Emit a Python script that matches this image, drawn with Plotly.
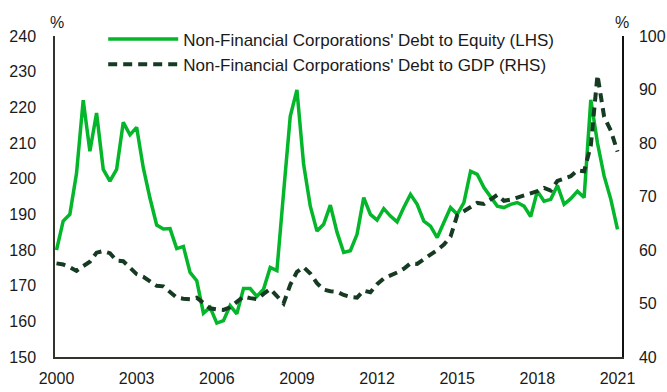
import plotly.graph_objects as go

# Quarterly observations, 2000Q1 .. 2021Q1
start_year = 2000
quarters = 85
years = [start_year + 0.25 * i for i in range(quarters)]

debt_to_equity = [
    180.0, 188.1, 190.0, 201.5, 222.0, 207.7, 218.4, 202.6, 199.3, 202.6,
    215.8, 212.3, 214.4, 203.0, 194.5, 187.0, 185.9, 186.0, 180.4, 181.0,
    173.7, 171.4, 162.3, 163.9, 159.5, 160.2, 164.4, 162.1, 169.2, 169.2,
    167.0, 169.0, 175.1, 174.2, 196.0, 217.5, 224.9, 204.0, 192.3, 185.3,
    187.2, 192.6, 185.0, 179.3, 179.8, 184.4, 194.7, 190.0, 188.4, 191.6,
    189.5, 187.9, 191.9, 195.6, 192.8, 188.1, 186.7, 183.5, 187.7, 191.9,
    190.0, 193.3, 202.1, 201.2, 197.5, 194.7, 192.3, 191.9, 192.8, 193.3,
    192.3, 189.4, 196.5, 193.7, 194.2, 198.1, 192.8, 194.4, 196.5, 194.7,
    222.1, 210.0, 200.7, 194.2, 185.8,
]

debt_to_gdp = [
    57.5, 57.3, 56.8, 56.1, 57.0, 57.8, 59.5, 59.8, 59.4, 58.0,
    57.9, 56.8, 55.5, 55.0, 54.2, 53.3, 53.2, 52.2, 51.1, 50.9,
    50.8, 51.1, 50.0, 49.1, 48.9, 48.8, 49.3, 50.3, 51.3, 51.0,
    50.8, 51.8, 52.7, 51.4, 50.0, 53.5, 55.9, 56.8, 55.6, 53.8,
    52.6, 52.3, 52.2, 51.6, 51.2, 51.1, 52.4, 52.1, 53.6, 54.7,
    55.2, 55.8, 56.5, 57.5, 57.4, 58.2, 59.0, 60.0, 61.0, 62.5,
    66.5, 67.3, 67.9, 68.8, 68.6, 69.5, 70.3, 69.2, 69.4, 69.8,
    70.2, 70.6, 71.0, 71.6, 71.1, 72.9, 73.4, 73.8, 74.9, 74.7,
    79.5, 92.7, 84.9, 82.3, 78.4,
]

x_ticks = [2000, 2003, 2006, 2009, 2012, 2015, 2018, 2021]
x_labels = ["2000", "2003", "2006", "2009", "2012", "2015", "2018", "2021"]
left_ticks = [150, 160, 170, 180, 190, 200, 210, 220, 230, 240]
right_ticks = [40, 50, 60, 70, 80, 90, 100]

name_equity = "Non-Financial Corporations' Debt to Equity (LHS)"
name_gdp = "Non-Financial Corporations' Debt to GDP (RHS)"

GREEN = "#03b62a"
DARK = "#163a22"
FONT = "Liberation Sans, Arial, sans-serif"

fig = go.Figure()
fig.add_trace(go.Scatter(
    x=years, y=debt_to_equity, name=name_equity, mode="lines",
    line=dict(color=GREEN, width=3.5),
))
fig.add_trace(go.Scatter(
    x=years, y=debt_to_gdp, name=name_gdp, mode="lines", yaxis="y2",
    line=dict(color=DARK, width=4, dash="9px,6px"),
))

fig.update_layout(
    width=667, height=392,
    margin=dict(l=55, r=45, t=36, b=35, autoexpand=False),
    paper_bgcolor="white", plot_bgcolor="white",
    font=dict(family=FONT, size=16, color="#1a1a1a"),
    showlegend=True,
    legend=dict(
        x=0.085, y=1.045, xanchor="left", yanchor="top",
        bgcolor="rgba(0,0,0,0)", itemwidth=70,
        font=dict(size=17, color="#1a1a1a"),
        tracegroupgap=0,
    ),
    xaxis=dict(
        range=[1999.944, 2021.168], tickmode="array",
        tickvals=x_ticks, ticktext=x_labels,
        showgrid=False, zeroline=False, showline=True,
        linecolor="#33332a", linewidth=1.5, ticks="",
        ticklabelstandoff=6, automargin=False,
    ),
    yaxis=dict(
        range=[150, 240], tickmode="array", tickvals=left_ticks,
        showgrid=False, zeroline=False, showline=True,
        linecolor="#33332a", linewidth=1.5, ticks="",
        ticklabelstandoff=14, automargin=False,
    ),
    yaxis2=dict(
        range=[40, 100], tickmode="array", tickvals=right_ticks,
        overlaying="y", side="right",
        showgrid=False, zeroline=False, showline=True,
        linecolor="#111111", linewidth=1.5, ticks="",
        ticklabelstandoff=12, automargin=False,
    ),
    annotations=[
        dict(text="%", xref="paper", yref="paper", x=0.003, y=1.01,
             xanchor="center", yanchor="bottom", showarrow=False,
             font=dict(size=16, color="#1a1a1a")),
        dict(text="%", xref="paper", yref="paper", x=1.0, y=1.01,
             xanchor="center", yanchor="bottom", showarrow=False,
             font=dict(size=16, color="#1a1a1a")),
    ],
)

fig.write_html("out.html")
